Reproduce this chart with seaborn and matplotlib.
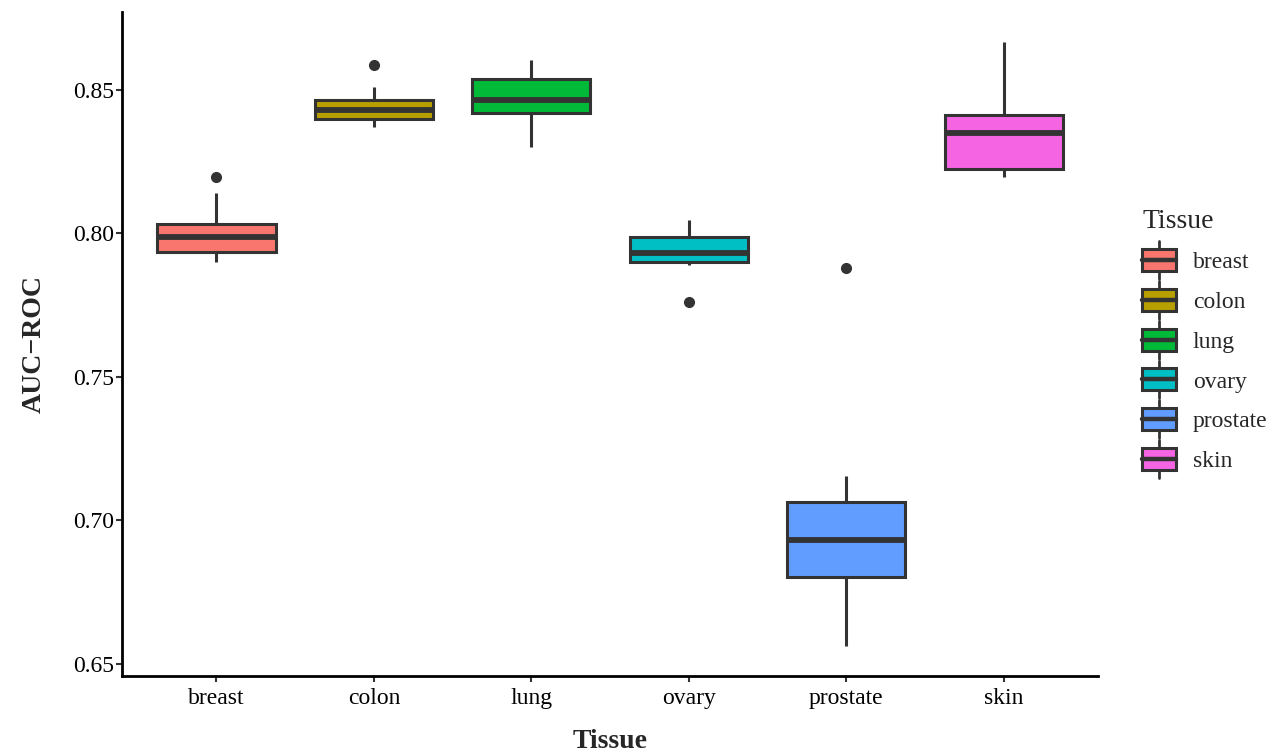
import pandas as pd
import numpy as np
import seaborn as sns
import matplotlib.pyplot as plt
from matplotlib.patches import Rectangle, Patch
from matplotlib.lines import Line2D
from matplotlib.legend_handler import HandlerBase

# box summaries (AUC-ROC per tissue)
tissues = ['breast', 'colon', 'lung', 'ovary', 'prostate', 'skin']
colors = ['#F8766D', '#B79F00', '#00BA38', '#00BFC4', '#619CFF', '#F564E3']
q1 = [0.7933, 0.8396, 0.8418, 0.7898, 0.6803, 0.8224]
median = [0.7985, 0.8429, 0.8465, 0.7930, 0.6930, 0.8349]
q3 = [0.8030, 0.8464, 0.8536, 0.7985, 0.7062, 0.8410]
whisker_lo = [0.7898, 0.8371, 0.8299, 0.7890, 0.6562, 0.8195]
whisker_hi = [0.8138, 0.8510, 0.8603, 0.8044, 0.7154, 0.8665]
outliers = [[0.8194], [0.8587], [], [0.7760], [0.7880], []]

# expand each summary into observations that reproduce the same box stats
rows = []
for i, t in enumerate(tissues):
    obs = [whisker_lo[i]] + [q1[i]] * 10 + [median[i]] * 10 + [q3[i]] * 10 + [whisker_hi[i]] + outliers[i]
    rows += [(t, v) for v in obs]
df = pd.DataFrame(rows, columns=['Tissue', 'AUC'])

sns.set_style('white')
plt.rcParams['font.family'] = ['Liberation Serif', 'DejaVu Serif']

line_col = '#333333'
fig = plt.figure(figsize=(12.79, 7.53), dpi=100)
ax = fig.add_axes([0.0954, 0.1023, 0.7631, 0.8817])

sns.boxplot(data=df, x='Tissue', y='AUC', hue='Tissue', order=tissues, hue_order=tissues,
            palette=colors, saturation=1, dodge=False, width=0.75, whis=1.5,
            linecolor=line_col, linewidth=2.2, fliersize=7, showcaps=False,
            medianprops={'linewidth': 4.2, 'color': line_col},
            flierprops={'marker': 'o', 'markerfacecolor': line_col, 'markeredgecolor': line_col},
            legend=False, ax=ax)

ax.set_xlim(-0.6, 5.6)
ax.set_ylim(0.6457, 0.8770)
ax.set_yticks([0.65, 0.70, 0.75, 0.80, 0.85])
ax.set_yticklabels(['0.65', '0.70', '0.75', '0.80', '0.85'])
for s in ['top', 'right']:
    ax.spines[s].set_visible(False)
for s in ['left', 'bottom']:
    ax.spines[s].set_color('black')
    ax.spines[s].set_linewidth(2.0)
ax.tick_params(axis='both', which='major', labelsize=17, colors=line_col, labelcolor='black',
               length=4, width=1.5, left=True, bottom=True)
ax.tick_params(axis='y', pad=2)
ax.tick_params(axis='x', pad=5)
ax.set_xlabel('Tissue', fontsize=20, fontweight='bold', labelpad=14)
ax.set_ylabel('AUC\u2212ROC', fontsize=20, fontweight='bold', labelpad=19)


# legend key drawn like a small boxplot (sizes tied to the font size, not the handle box)
class BoxKey(HandlerBase):
    def create_artists(self, legend, orig_handle, xdescent, ydescent, width, height, fontsize, trans):
        x0 = -xdescent
        yc = -ydescent + height / 2
        bh = 0.93 * fontsize / 2
        wh_ = 1.6 * fontsize / 2
        fc = orig_handle.get_facecolor()
        xm = x0 + width / 2
        wl = Line2D([xm, xm], [yc - wh_, yc - bh], color=line_col, lw=2.0, transform=trans)
        wh = Line2D([xm, xm], [yc + bh, yc + wh_], color=line_col, lw=2.0, transform=trans)
        box = Rectangle((x0, yc - bh), width, 2 * bh, facecolor=fc,
                        edgecolor=line_col, lw=2.2, transform=trans)
        med = Line2D([x0, x0 + width], [yc, yc], color=line_col, lw=3.2, transform=trans)
        return [wl, wh, box, med]


handles = [Patch(facecolor=c) for c in colors]
leg = ax.legend(handles, tissues, handler_map={Patch: BoxKey()}, title='Tissue',
                loc='center left', bbox_to_anchor=(0.893, 0.548), bbox_transform=fig.transFigure,
                frameon=False, fontsize=17, title_fontsize=20, alignment='left',
                handlelength=1.45, handleheight=1.0, labelspacing=0.68, handletextpad=0.7,
                borderpad=0, borderaxespad=0)

fig.savefig('out.png', dpi=100)
